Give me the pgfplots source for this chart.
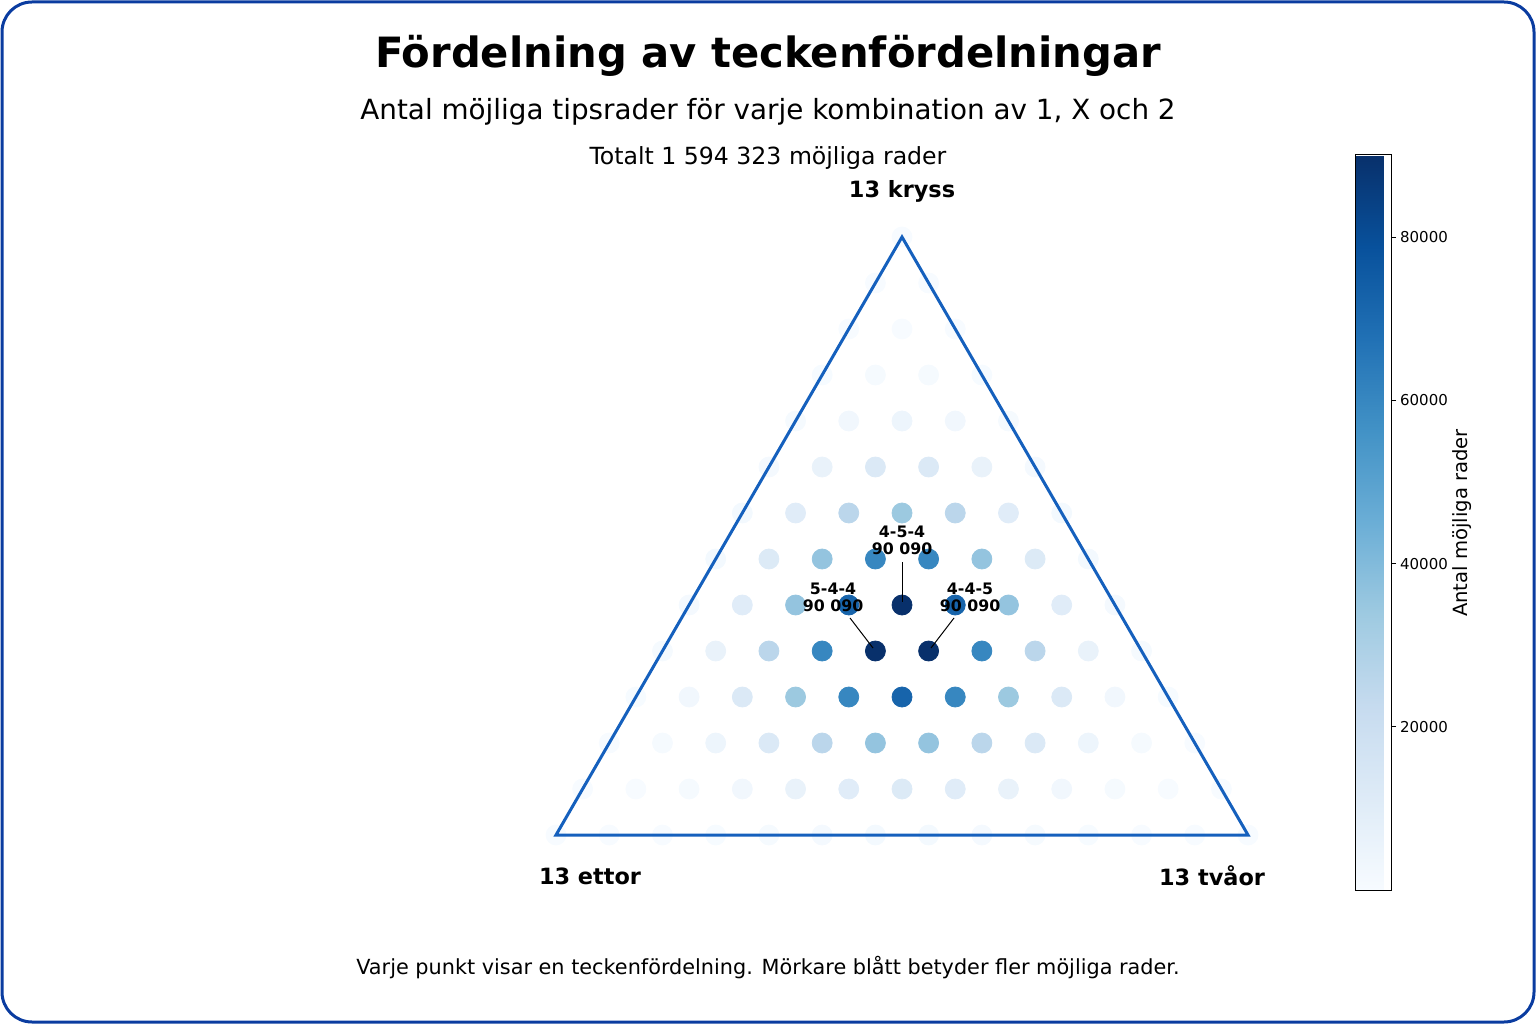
\documentclass[border=0pt]{standalone}
\usepackage{pgfplots}
\pgfplotsset{compat=1.18}
\usepackage{pgfplotstable}
\usepackage{fontspec}
\setmainfont{DejaVu Sans}
\definecolor{framecol}{RGB}{10,60,160}
\definecolor{tricol}{RGB}{21,96,189}
\pgfplotstableread{
b c n
0 0 1
0 1 13
0 2 78
0 3 286
0 4 715
0 5 1287
0 6 1716
0 7 1716
0 8 1287
0 9 715
0 10 286
0 11 78
0 12 13
0 13 1
1 0 13
1 1 156
1 2 858
1 3 2860
1 4 6435
1 5 10296
1 6 12012
1 7 10296
1 8 6435
1 9 2860
1 10 858
1 11 156
1 12 13
2 0 78
2 1 858
2 2 4290
2 3 12870
2 4 25740
2 5 36036
2 6 36036
2 7 25740
2 8 12870
2 9 4290
2 10 858
2 11 78
3 0 286
3 1 2860
3 2 12870
3 3 34320
3 4 60060
3 5 72072
3 6 60060
3 7 34320
3 8 12870
3 9 2860
3 10 286
4 0 715
4 1 6435
4 2 25740
4 3 60060
4 4 90090
4 5 90090
4 6 60060
4 7 25740
4 8 6435
4 9 715
5 0 1287
5 1 10296
5 2 36036
5 3 72072
5 4 90090
5 5 72072
5 6 36036
5 7 10296
5 8 1287
6 0 1716
6 1 12012
6 2 36036
6 3 60060
6 4 60060
6 5 36036
6 6 12012
6 7 1716
7 0 1716
7 1 10296
7 2 25740
7 3 34320
7 4 25740
7 5 10296
7 6 1716
8 0 1287
8 1 6435
8 2 12870
8 3 12870
8 4 6435
8 5 1287
9 0 715
9 1 2860
9 2 4290
9 3 2860
9 4 715
10 0 286
10 1 858
10 2 858
10 3 286
11 0 78
11 1 156
11 2 78
12 0 13
12 1 13
13 0 1
}\data

\begin{document}
\begin{tikzpicture}[x=0.5pt,y=0.5pt]
\useasboundingbox (0,0) rectangle (1536,1024);
\draw[framecol, line width=1.5pt, rounded corners=15pt] (2,2) rectangle (1534,1022);
\begin{axis}[at={(0,0)}, anchor=south west,
  width=768pt, height=512pt, scale only axis,
  xmin=0, xmax=1536, ymin=0, ymax=1024,
  hide axis, clip=false,
  colormap={blues}{rgb255=(247,251,255) rgb255=(222,235,247) rgb255=(198,219,239) rgb255=(158,202,225) rgb255=(107,174,214) rgb255=(66,146,198) rgb255=(33,113,181) rgb255=(8,81,156) rgb255=(8,48,107)},
  point meta min=1, point meta max=90090,
  colorbar,
  colorbar style={
    at={(parent axis.south west)}, anchor=south west,
    xshift=669pt, yshift=67pt,
    scale only axis, width=18pt, height=367.5pt,
    ytick={20000,40000,60000,80000},
    ytick pos=right, yticklabel pos=right,
    scaled y ticks=false,
    /pgf/number format/1000 sep={},
    /pgf/number format/assume math mode=true,
    yticklabel style={font=\fontsize{7.5}{8.5}\selectfont, xshift=-1.5pt},
    tick align=outside, major tick length=2.5pt,
    tick style={black, line width=0.4pt},
    axis line style={black, line width=0.5pt},
  },
]
\addplot[scatter, only marks, mark=*, mark size=5pt,
  scatter src=explicit,
  scatter/use mapped color={draw=mapped color, fill=mapped color}]
  table[x expr={556+(\thisrow{c}+0.5*\thisrow{b})*53.2308},
        y expr={189+\thisrow{b}*46},
        meta=n] {\data};
\end{axis}
% triangle frame
\draw[tricol, line width=1.5pt, line join=miter] (556,189) -- (1248,189) -- (902,787) -- cycle;
% annotations
\draw[black, line width=0.5pt] (902,462) -- (902,422);
\draw[black, line width=0.5pt] (850,406) -- (873,376);
\draw[black, line width=0.5pt] (954,406) -- (931,376);
\node[align=center, font=\fontsize{7.9}{8.6}\selectfont\bfseries] at (902,484) {4-5-4\\90 090};
\node[align=center, font=\fontsize{7.9}{8.6}\selectfont\bfseries] at (833,427) {5-4-4\\90 090};
\node[align=center, font=\fontsize{7.9}{8.6}\selectfont\bfseries] at (970,427) {4-4-5\\90 090};
% vertex labels
\node[font=\fontsize{11.2}{13}\selectfont\bfseries] at (902,833) {13 kryss};
\node[font=\fontsize{11.2}{13}\selectfont\bfseries] at (590,148) {13 ettor};
\node[font=\fontsize{11.2}{13}\selectfont\bfseries] at (1212,148) {13 tvåor};
% titles
\node[font=\fontsize{20.85}{24}\selectfont\bfseries] at (768,968) {Fördelning av teckenfördelningar};
\node[font=\fontsize{13.9}{17}\selectfont] at (768,912) {Antal möjliga tipsrader för varje kombination av 1, X och 2};
\node[font=\fontsize{11.8}{14}\selectfont] at (768,866) {Totalt 1 594 323 möjliga rader};
\node[font=\fontsize{10.4}{12}\selectfont] at (768,56) {Varje punkt visar en teckenfördelning. Mörkare blått betyder fler möjliga rader.};
\node[font=\fontsize{9.8}{11}\selectfont, rotate=90] at (1462,501) {Antal möjliga rader};
\end{tikzpicture}
\end{document}
